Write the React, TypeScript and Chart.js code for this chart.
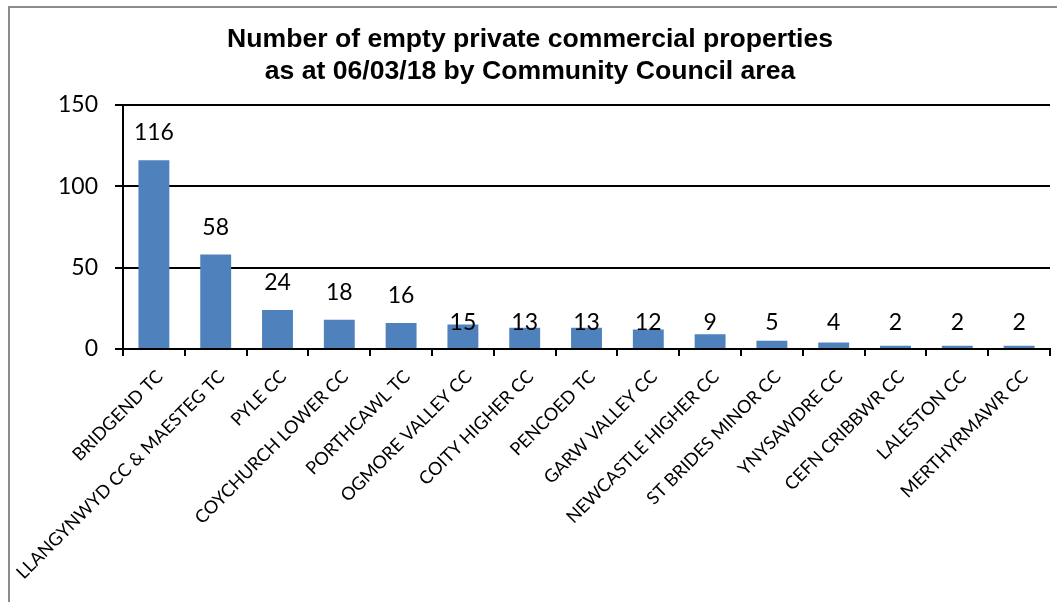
import React, { useEffect, useRef } from "react";
import { Chart, registerables } from "chart.js";

Chart.register(...registerables);

const titleLines = [
  "Number of empty private commercial properties",
  "as at 06/03/18 by Community Council area",
];

const categories = [
  "BRIDGEND TC",
  "LLANGYNWYD CC & MAESTEG TC",
  "PYLE CC",
  "COYCHURCH LOWER CC",
  "PORTHCAWL TC",
  "OGMORE VALLEY CC",
  "COITY HIGHER CC",
  "PENCOED TC",
  "GARW VALLEY CC",
  "NEWCASTLE HIGHER CC",
  "ST BRIDES MINOR CC",
  "YNYSAWDRE CC",
  "CEFN CRIBBWR CC",
  "LALESTON CC",
  "MERTHYRMAWR CC",
];

const values = [116, 58, 24, 18, 16, 15, 13, 13, 12, 9, 5, 4, 2, 2, 2];

const yTicks = [0, 50, 100, 150];

const LABEL_FONT = "Lato, 'Open Sans', sans-serif";

const valueLabels = {
  id: "valueLabels",
  afterDatasetsDraw(chart: any) {
    const { ctx } = chart;
    const meta = chart.getDatasetMeta(0);
    const yScale = chart.scales.y;
    const base = yScale.getPixelForValue(0);
    ctx.save();
    ctx.font = `23px ${LABEL_FONT}`;
    ctx.fillStyle = "#000";
    ctx.textAlign = "center";
    ctx.textBaseline = "alphabetic";
    meta.data.forEach((bar: any, i: number) => {
      const v = values[i];
      const y = v <= 15 ? base - 19 : bar.y - 20;
      ctx.fillText(String(v), bar.x, y);
    });
    ctx.restore();
  },
};

export default function App() {
  const ref = useRef<HTMLCanvasElement | null>(null);

  useEffect(() => {
    document.body.style.overflow = "hidden";
    if (!ref.current) return;
    const chart = new Chart(ref.current, {
      type: "bar",
      data: {
        labels: categories,
        datasets: [
          {
            data: values,
            backgroundColor: "#4f81bd",
            borderWidth: 0,
            barPercentage: 0.5,
            categoryPercentage: 1,
          },
        ],
      },
      options: {
        responsive: false,
        animation: false,
        devicePixelRatio: 1,
        layout: { padding: { left: 0, right: 7, top: 0, bottom: 0 } },
        plugins: {
          legend: { display: false },
          tooltip: { enabled: false },
          title: {
            display: true,
            text: titleLines,
            color: "#000",
            font: {
              family: "'Liberation Sans', Arial, sans-serif",
              size: 26.6,
              weight: "bold",
              lineHeight: 1.2,
            },
            padding: { top: 16, bottom: 17 },
          },
        },
        scales: {
          x: {
            grid: {
              display: true,
              offset: true,
              drawOnChartArea: false,
              drawTicks: true,
              tickLength: 7,
              color: "#000",
              lineWidth: 2,
            },
            border: { display: true, color: "#000", width: 2 },
            ticks: {
              minRotation: 45,
              maxRotation: 45,
              autoSkip: false,
              color: "#000",
              padding: 10,
              labelOffset: 6,
              font: { family: LABEL_FONT, size: 18 },
            },
            afterFit(scale: any) {
              scale.height = 253;
            },
          },
          y: {
            min: 0,
            max: 150,
            afterBuildTicks(scale: any) {
              scale.ticks = yTicks.map((v) => ({ value: v }));
            },
            grid: {
              color: "#000",
              lineWidth: 2,
              tickLength: 8,
              drawTicks: true,
            },
            border: { display: true, color: "#000", width: 2 },
            ticks: {
              color: "#000",
              padding: 17,
              font: { family: LABEL_FONT, size: 23 },
            },
            afterFit(scale: any) {
              scale.width = 113;
            },
          },
        },
      },
      plugins: [valueLabels],
    });
    return () => chart.destroy();
  }, []);

  return (
    <div
      style={{
        position: "absolute",
        left: 8,
        top: 6,
        borderTop: "2px solid #8c8c8c",
        borderLeft: "2px solid #8c8c8c",
        width: 1049,
        height: 596,
        boxSizing: "border-box",
        background: "#fff",
      }}
    >
      <canvas ref={ref} width={1047} height={594} style={{ display: "block" }} />
    </div>
  );
}
